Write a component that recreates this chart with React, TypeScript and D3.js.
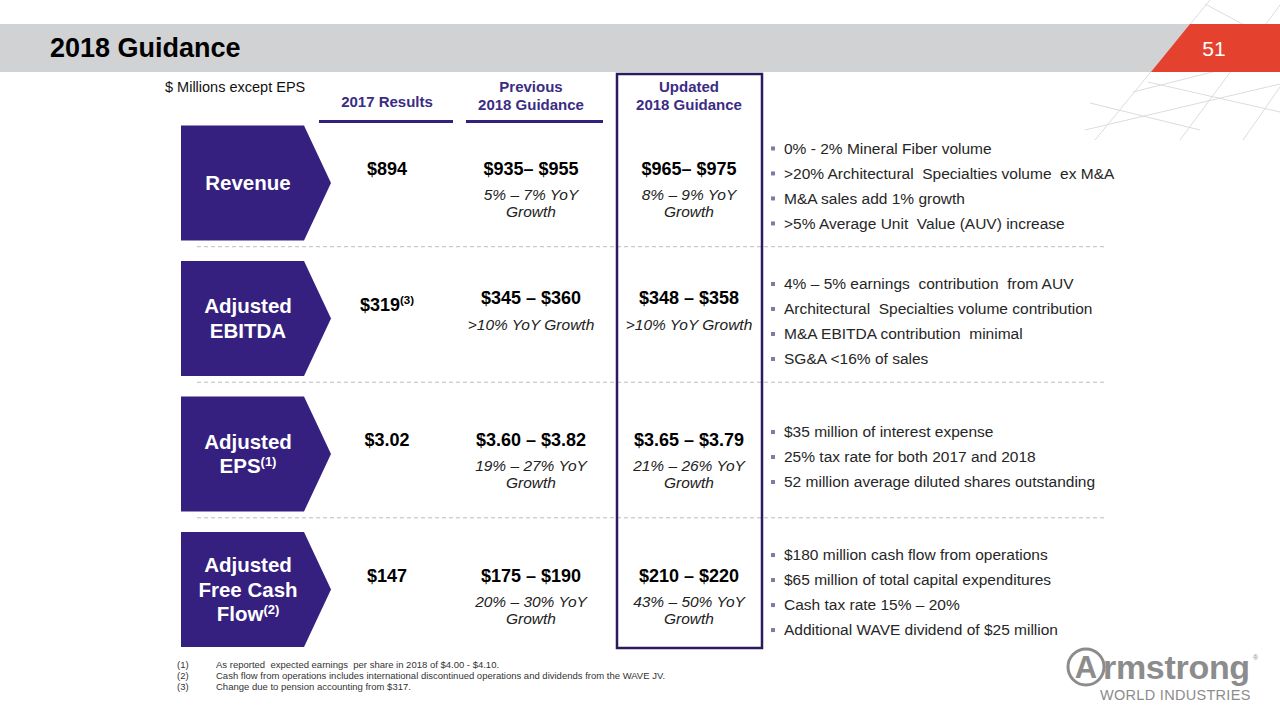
import React from "react";
import * as d3 from "d3";

// ---------- data ----------
const metrics = ["Revenue", "Adjusted EBITDA", "Adjusted EPS", "Adjusted Free Cash Flow"];
const metricLabelLines = [["Revenue"], ["Adjusted", "EBITDA"], ["Adjusted", "EPS"], ["Adjusted", "Free Cash", "Flow"]];
const metricLabelSup = ["", "", "(1)", "(2)"];

const columnHeaders = [["2017 Results"], ["Previous", "2018 Guidance"], ["Updated", "2018 Guidance"]];

const results2017 = ["$894", "$319", "$3.02", "$147"];
const results2017Sup = ["", "(3)", "", ""];

const previousGuidance = ["$935– $955", "$345 – $360", "$3.60 – $3.82", "$175 – $190"];
const previousGrowth = [["5% – 7% YoY", "Growth"], [">10% YoY Growth"], ["19% – 27% YoY", "Growth"], ["20% – 30% YoY", "Growth"]];

const updatedGuidance = ["$965– $975", "$348 – $358", "$3.65 – $3.79", "$210 – $220"];
const updatedGrowth = [["8% – 9% YoY", "Growth"], [">10% YoY Growth"], ["21% – 26% YoY", "Growth"], ["43% – 50% YoY", "Growth"]];

const drivers = [
  ["0% - 2% Mineral Fiber volume", ">20% Architectural  Specialties volume  ex M&A", "M&A sales add 1% growth", ">5% Average Unit  Value (AUV) increase"],
  ["4% – 5% earnings  contribution  from AUV", "Architectural  Specialties volume contribution", "M&A EBITDA contribution  minimal", "SG&A <16% of sales"],
  ["$35 million of interest expense", "25% tax rate for both 2017 and 2018", "52 million average diluted shares outstanding"],
  ["$180 million cash flow from operations", "$65 million of total capital expenditures", "Cash tax rate 15% – 20%", "Additional WAVE dividend of $25 million"],
];

const footnotes = [
  "As reported  expected earnings  per share in 2018 of $4.00 - $4.10.",
  "Cash flow from operations includes international discontinued operations and dividends from the WAVE JV.",
  "Change due to pension accounting from $317.",
];

// ---------- style ----------
const FONT = "'Liberation Sans', Arial, Helvetica, sans-serif";
const PURPLE = "#35207f";
const DARK_PURPLE = "#2b1a5e";
const HEADER_PURPLE = "#3b2c85";
const GRAY_BAND = "#d1d2d4";
const RED = "#e4412e";
const LOGO_GRAY = "#8c8c8c";
const GRID_GRAY = "#dcdcdc";

export default function App() {
  const W = 1280;
  const H = 720;

  const rowScale = d3.scaleBand<string>().domain(metrics).range([125.5, 647]).paddingInner(0.1523).paddingOuter(0);
  const colScale = d3.scaleOrdinal<number, number>().domain([0, 1, 2]).range([387, 531, 689]);
  const band = rowScale.bandwidth();

  const chevX0 = 181;
  const chevX1 = 304;
  const chevTip = 331;
  const bulletX = 773;
  const bulletTextX = 784;
  const bulletGap = 25;

  const rowCenter = (m: string) => (rowScale(m) as number) + band / 2;

  const gridLines: [number, number, number, number][] = [
    [1210, 0, 1095, 140],
    [1280, 5, 1180, 140],
    [1280, 87, 1243, 140],
    [1205, 4, 1280, 44],
    [1133, 92, 1280, 55],
    [1085, 130, 1280, 84],
    [1148, 82, 1280, 112],
    [1090, 103, 1200, 130],
  ];

  return (
    <svg width={W} height={H} style={{ position: "absolute", left: 0, top: 0, background: "#fff" }} fontFamily={FONT}>
      <rect x={0} y={0} width={W} height={H} fill="#fff" />
      {/* decorative grid */}
      {gridLines.map((l, i) => (
        <line key={i} x1={l[0]} y1={l[1]} x2={l[2]} y2={l[3]} stroke={GRID_GRAY} strokeWidth={1} />
      ))}
      {/* header band */}
      <rect x={0} y={24} width={1191} height={48} fill={GRAY_BAND} />
      <polygon points="1190,24 1280,24 1280,72 1151,72" fill={RED} />
      <text x={50} y={57} fontSize={27} fontWeight="bold" fill="#000">2018 Guidance</text>
      <text x={1214} y={56} fontSize={21} fill="#fff" textAnchor="middle">51</text>

      <text x={165} y={92} fontSize={14.5} fill="#111">$ Millions except EPS</text>

      {/* column headers */}
      {columnHeaders.map((lines, i) => {
        const cx = colScale(i);
        const ys = lines.length === 1 ? [107] : [92, 110];
        return (
          <g key={i}>
            {lines.map((t, j) => (
              <text key={j} x={cx} y={ys[j]} textAnchor="middle" fontSize={15} fontWeight="bold" fill={HEADER_PURPLE}>{t}</text>
            ))}
          </g>
        );
      })}
      <rect x={319} y={120} width={134} height={3} fill={PURPLE} />
      <rect x={466} y={120} width={137} height={3} fill={PURPLE} />

      {/* dashed separators */}
      {metrics.slice(0, -1).map((m, i) => {
        const y = (rowScale(m) as number) + band + (rowScale.step() - band) / 2 - 4;
        return <line key={i} x1={197} x2={1105} y1={y} y2={y} stroke="#bdbdbd" strokeWidth={1} strokeDasharray="4,3" />;
      })}

      {/* updated box */}
      <rect x={617} y={74} width={145} height={574} fill="none" stroke={DARK_PURPLE} strokeWidth={2.5} />

      {metrics.map((m, i) => {
        const top = rowScale(m) as number;
        const cy = rowCenter(m);
        const labelLines = metricLabelLines[i];
        const lh = 24.5;
        const l0 = cy - ((labelLines.length - 1) * lh) / 2;
        const twoLineGrowth = previousGrowth[i].length === 2;
        const valY = twoLineGrowth ? cy - 14 : cy - 21;
        const subY0 = twoLineGrowth ? cy + 12 : cy + 6;
        const drv = drivers[i];
        const b0 = cy + 3 - ((drv.length - 1) * bulletGap) / 2;
        return (
          <g key={m}>
            <polygon
              points={`${chevX0},${top} ${chevX1},${top} ${chevTip},${cy} ${chevX1},${top + band} ${chevX0},${top + band}`}
              fill={PURPLE}
            />
            {labelLines.map((t, j) => (
              <text key={j} x={248} y={l0 + j * lh} dy="0.35em" textAnchor="middle" fontSize={20.5} fontWeight="bold" fill="#fff">
                {t}
                {j === labelLines.length - 1 && metricLabelSup[i] ? (
                  <tspan fontSize={13} dy="-7">{metricLabelSup[i]}</tspan>
                ) : null}
              </text>
            ))}

            {/* 2017 results */}
            <text x={colScale(0)} y={cy - 14} dy="0.35em" textAnchor="middle" fontSize={18} fontWeight="bold" fill="#000">
              {results2017[i]}
              {results2017Sup[i] ? <tspan fontSize={11.5} dy="-7">{results2017Sup[i]}</tspan> : null}
            </text>

            {/* previous */}
            <text x={colScale(1)} y={valY} dy="0.35em" textAnchor="middle" fontSize={18} fontWeight="bold" fill="#000">{previousGuidance[i]}</text>
            {previousGrowth[i].map((t, j) => (
              <text key={j} x={colScale(1)} y={subY0 + j * 17} dy="0.35em" textAnchor="middle" fontSize={15.5} fontStyle="italic" fill="#222">{t}</text>
            ))}

            {/* updated */}
            <text x={colScale(2)} y={valY} dy="0.35em" textAnchor="middle" fontSize={18} fontWeight="bold" fill="#000">{updatedGuidance[i]}</text>
            {updatedGrowth[i].map((t, j) => (
              <text key={j} x={colScale(2)} y={subY0 + j * 17} dy="0.35em" textAnchor="middle" fontSize={15.5} fontStyle="italic" fill="#222">{t}</text>
            ))}

            {/* drivers */}
            {drv.map((t, j) => (
              <g key={j}>
                <rect x={bulletX - 2} y={b0 + j * bulletGap - 2} width={4} height={4} fill="#7c7ca6" />
                <text x={bulletTextX} y={b0 + j * bulletGap} dy="0.35em" fontSize={15.5} fill="#262626" style={{ whiteSpace: "pre" }}>{t}</text>
              </g>
            ))}
          </g>
        );
      })}

      {/* footnotes */}
      {footnotes.map((t, i) => (
        <g key={i}>
          <text x={177} y={665 + i * 11} dy="0.35em" fontSize={9.5} fill="#333">{`(${i + 1})`}</text>
          <text x={216} y={665 + i * 11} dy="0.35em" fontSize={9.5} fill="#333" style={{ whiteSpace: "pre" }}>{t}</text>
        </g>
      ))}

      {/* logo */}
      <g fill={LOGO_GRAY}>
        <circle cx={1086} cy={667} r={18} fill="none" stroke={LOGO_GRAY} strokeWidth={3} />
        <text x={1086} y={678} textAnchor="middle" fontSize={31} fontWeight="bold">A</text>
        <text x={1103} y={679} fontSize={34} fontWeight="bold" letterSpacing={-0.3}>rmstrong</text>
        <text x={1253} y={660} fontSize={7}>®</text>
        <text x={1100} y={700} fontSize={14.5} letterSpacing={0.3}>WORLD INDUSTRIES</text>
      </g>
    </svg>
  );
}
